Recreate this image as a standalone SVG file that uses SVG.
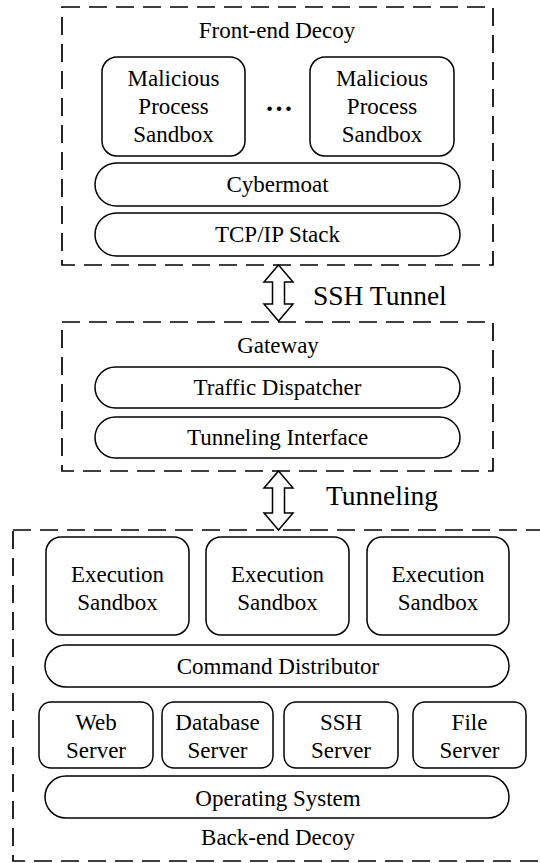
<svg xmlns="http://www.w3.org/2000/svg" width="540" height="863" viewBox="0 0 540 863">
<style>
.bg{fill:#fff}
.group{fill:none;stroke:#000;stroke-width:1.7;stroke-dasharray:18 9}
.box{fill:#fff;stroke:#000;stroke-width:1.5}
.arrow{fill:#fff;stroke:#000;stroke-width:1.5;stroke-linejoin:miter}
text{font-family:"Liberation Serif","Times New Roman",serif;fill:#000}
.t{text-anchor:middle;font-size:23px}
.big{font-size:27.5px;text-anchor:start}
.dots{text-anchor:middle;font-size:28px;font-weight:bold}
</style>
<rect class="bg" x="0" y="0" width="540" height="863"/>

<g id="frontend">
  <rect class="group" x="62" y="7" width="431" height="258"/>
  <text class="t" x="277" y="38">Front-end Decoy</text>
</g>
<g id="mps1">
  <rect class="box" x="102" y="57" width="143" height="99" rx="15"/>
  <text class="t" x="173.5" y="86">Malicious</text>
  <text class="t" x="173.5" y="114">Process</text>
  <text class="t" x="173.5" y="142">Sandbox</text>
</g>
<g id="ellipsis">
  <text class="dots" x="279" y="111">…</text>
</g>
<g id="mps2">
  <rect class="box" x="310" y="57" width="144" height="99" rx="15"/>
  <text class="t" x="382" y="86">Malicious</text>
  <text class="t" x="382" y="114">Process</text>
  <text class="t" x="382" y="142">Sandbox</text>
</g>
<g id="cybermoat">
  <rect class="box" x="95" y="163" width="365" height="43" rx="21.5"/>
  <text class="t" x="277.5" y="192">Cybermoat</text>
</g>
<g id="tcpip">
  <rect class="box" x="95" y="213" width="365" height="43" rx="21.5"/>
  <text class="t" x="277.5" y="242">TCP/IP Stack</text>
</g>

<g id="gateway">
  <rect class="group" x="62" y="322" width="431" height="149"/>
  <text class="t" x="278" y="353">Gateway</text>
</g>
<g id="traffic">
  <rect class="box" x="95" y="367" width="365" height="41" rx="20.5"/>
  <text class="t" x="277.5" y="395">Traffic Dispatcher</text>
</g>
<g id="tunnelif">
  <rect class="box" x="95" y="417" width="365" height="41" rx="20.5"/>
  <text class="t" x="277.5" y="445">Tunneling Interface</text>
</g>

<g id="backend">
  <rect class="group" x="13" y="530" width="529" height="331"/>
  <text class="t" x="278" y="845">Back-end Decoy</text>
</g>
<g id="exec1">
  <rect class="box" x="46" y="537" width="143" height="98" rx="15"/>
  <text class="t" x="117.5" y="582">Execution</text>
  <text class="t" x="117.5" y="610">Sandbox</text>
</g>
<g id="exec2">
  <rect class="box" x="206" y="537" width="143" height="98" rx="15"/>
  <text class="t" x="277.5" y="582">Execution</text>
  <text class="t" x="277.5" y="610">Sandbox</text>
</g>
<g id="exec3">
  <rect class="box" x="367" y="537" width="142" height="98" rx="15"/>
  <text class="t" x="438" y="582">Execution</text>
  <text class="t" x="438" y="610">Sandbox</text>
</g>
<g id="cmd">
  <rect class="box" x="45" y="645" width="464" height="42" rx="21"/>
  <text class="t" x="278" y="674">Command Distributor</text>
</g>
<g id="web">
  <rect class="box" x="39" y="702" width="114" height="66" rx="12"/>
  <text class="t" x="96" y="730">Web</text>
  <text class="t" x="96" y="758">Server</text>
</g>
<g id="db">
  <rect class="box" x="162" y="702" width="111" height="66" rx="12"/>
  <text class="t" x="217.5" y="730">Database</text>
  <text class="t" x="217.5" y="758">Server</text>
</g>
<g id="ssh">
  <rect class="box" x="284" y="702" width="114" height="66" rx="12"/>
  <text class="t" x="341" y="730">SSH</text>
  <text class="t" x="341" y="758">Server</text>
</g>
<g id="file">
  <rect class="box" x="413" y="702" width="113" height="66" rx="12"/>
  <text class="t" x="469.5" y="730">File</text>
  <text class="t" x="469.5" y="758">Server</text>
</g>
<g id="os">
  <rect class="box" x="45" y="776" width="464" height="42" rx="21"/>
  <text class="t" x="278" y="806">Operating System</text>
</g>

<g id="connectors">
  <path class="arrow" d="M278.5,265 L293,282 L284.5,282 L284.5,304 L293,304 L278.5,321 L264,304 L272.5,304 L272.5,282 L264,282 Z"/>
  <text class="big" x="313" y="305">SSH Tunnel</text>
  <path class="arrow" d="M278.5,471 L293,488 L284.5,488 L284.5,513 L293,513 L278.5,530 L264,513 L272.5,513 L272.5,488 L264,488 Z"/>
  <text class="big" x="326" y="505">Tunneling</text>
</g>
</svg>
